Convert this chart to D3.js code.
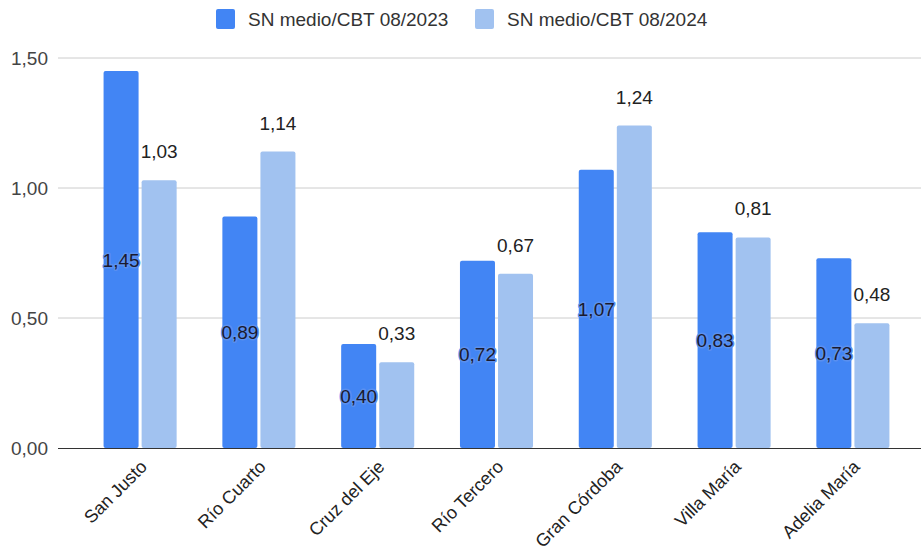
<!DOCTYPE html>
<html><head><meta charset="utf-8">
<script src="https://cdn.jsdelivr.net/npm/d3@7"></script>
<style>body{margin:0;background:#fff}svg{display:block}text{font-family:"Liberation Sans",Arial,sans-serif}</style>
</head><body>
<svg id="c" width="921" height="554"></svg>
<script>
const categories = ["San Justo","Río Cuarto","Cruz del Eje","Río Tercero","Gran Córdoba","Villa María","Adelia María"];
const seriesNames = ["SN medio/CBT 08/2023","SN medio/CBT 08/2024"];
const values2023 = [1.45,0.89,0.40,0.72,1.07,0.83,0.73];
const values2024 = [1.03,1.14,0.33,0.67,1.24,0.81,0.48];
const yTicks = [0,0.5,1,1.5];
const colors = ["#4285f4","#a1c2f0"];

const svg = d3.select("#c");
const fmt = v => d3.format(".2f")(v).replace(".", ",");
const y = d3.scaleLinear().domain([0,1.5]).range([448,58]);
const x0 = d3.scaleBand().domain(categories).range([81,912]).paddingInner(0.385).paddingOuter(0.19);
const x1 = d3.scaleBand().domain([0,1]).range([0,x0.bandwidth()]).paddingInner(0.08);
const FS = 19;

// gridlines
svg.append("g").selectAll("line").data(yTicks.filter(d=>d>0)).join("line")
  .attr("x1",58).attr("x2",921).attr("y1",d=>y(d)).attr("y2",d=>y(d))
  .attr("stroke","#cccccc").attr("stroke-width",1);
// y labels
svg.append("g").selectAll("text").data(yTicks).join("text")
  .attr("x",48).attr("y",d=>y(d)+7).attr("text-anchor","end")
  .attr("font-size",FS).attr("fill","#444").text(fmt);

const data = categories.map((c,i)=>({c, v:[values2023[i],values2024[i]]}));
const g = svg.append("g").selectAll("g").data(data).join("g")
  .attr("transform",d=>`translate(${x0(d.c)},0)`);
g.selectAll("rect").data(d=>d.v.map((v,k)=>({v,k}))).join("rect")
  .attr("x",d=>x1(d.k)).attr("width",x1.bandwidth())
  .attr("y",d=>y(d.v)).attr("height",d=>y(0)-y(d.v))
  .attr("rx",2).attr("fill",d=>colors[d.k]);

// baseline
svg.append("line").attr("x1",58).attr("x2",921).attr("y1",y(0)+0.5).attr("y2",y(0)+0.5)
  .attr("stroke","#333").attr("stroke-width",1.2);

// labels 2024 above bars
g.append("text").attr("x",x1(1)+x1.bandwidth()/2).attr("y",d=>y(d.v[1])-22)
  .attr("text-anchor","middle").attr("font-size",FS).attr("fill","#222").text(d=>fmt(d.v[1]));
// labels 2023 centered in bar
g.append("text").attr("x",x1(0)+x1.bandwidth()/2).attr("y",d=>(y(d.v[0])+y(0))/2+7)
  .attr("text-anchor","middle").attr("font-size",FS).attr("fill","#1a1a2e")
  .attr("stroke","#5a90f0").attr("stroke-width",3).attr("stroke-linejoin","round")
  .attr("paint-order","stroke").text(d=>fmt(d.v[0]));

// x labels
svg.append("g").selectAll("text").data(categories).join("text")
  .attr("transform",c=>`translate(${x0(c)+x0.bandwidth()/2+8},${y(0)+20}) rotate(-45)`)
  .attr("text-anchor","end").attr("font-size",18).attr("fill","#222").text(c=>c);

// legend
const leg = [{x:216,tx:248},{x:475,tx:507}];
seriesNames.forEach((n,i)=>{
  svg.append("rect").attr("x",leg[i].x).attr("y",9).attr("width",19).attr("height",20).attr("rx",2).attr("fill",colors[i]);
  svg.append("text").attr("x",leg[i].tx).attr("y",26).attr("font-size",FS).attr("fill","#333").text(n);
});
</script>
</body></html>
